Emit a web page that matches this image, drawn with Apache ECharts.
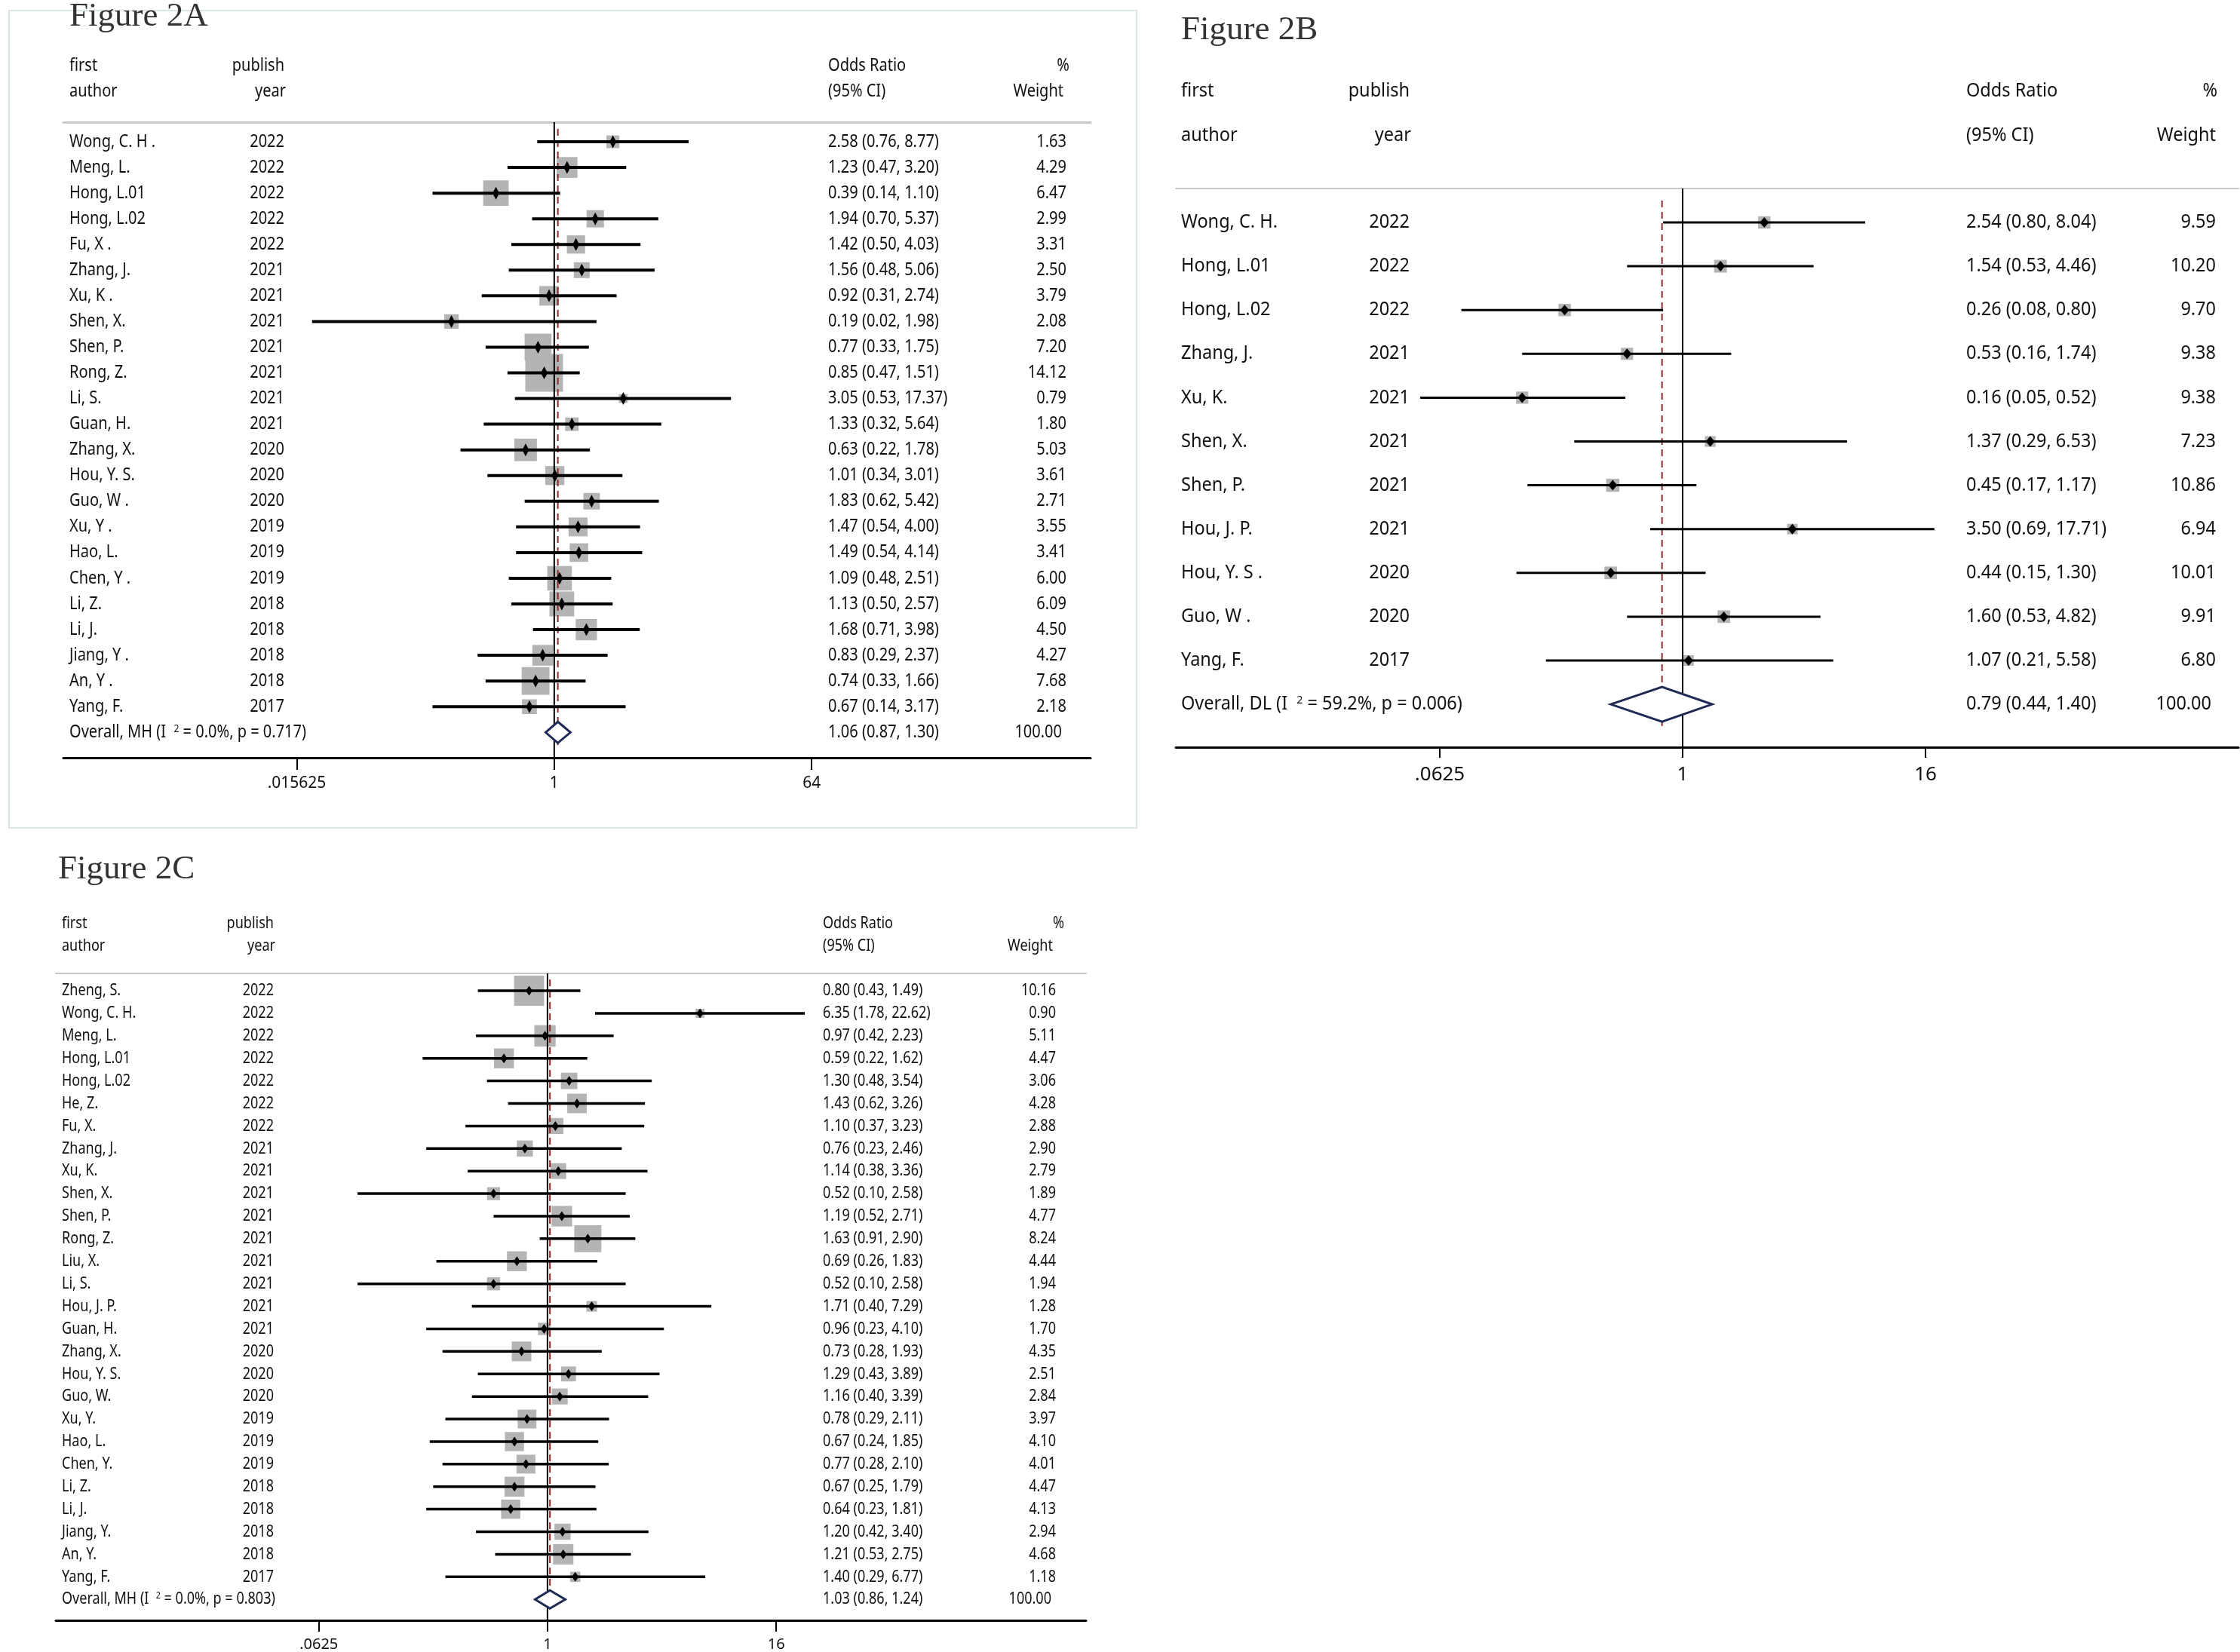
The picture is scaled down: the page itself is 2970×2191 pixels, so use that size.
<!DOCTYPE html>
<html>
<head>
<meta charset="utf-8">
<title>Figure 2</title>
<script src="https://cdn.jsdelivr.net/npm/echarts@6/dist/echarts.min.js"></script>
<style>
html, body { margin: 0; padding: 0; background: #fff; }
#main { width: 2970px; height: 2191px; }
</style>
</head>
<body>
<div id="main"></div>
<script>
/**
 * Figure 2A  (Mantel-Haenszel)
 */
var authorsA = ['Wong, C. H .', 'Meng, L.', 'Hong, L.01', 'Hong, L.02', 'Fu, X .', 'Zhang, J.', 'Xu, K .', 'Shen, X.',
    'Shen, P.', 'Rong, Z.', 'Li, S.', 'Guan, H.', 'Zhang, X.', 'Hou, Y. S.', 'Guo, W .', 'Xu, Y .', 'Hao, L.',
    'Chen, Y .', 'Li, Z.', 'Li, J.', 'Jiang, Y .', 'An, Y .', 'Yang, F.'];
var yearsA = [2022, 2022, 2022, 2022, 2022, 2021, 2021, 2021, 2021, 2021, 2021, 2021, 2020, 2020, 2020, 2019, 2019,
    2019, 2018, 2018, 2018, 2018, 2017];
var orA = [2.58, 1.23, 0.39, 1.94, 1.42, 1.56, 0.92, 0.19, 0.77, 0.85, 3.05, 1.33, 0.63, 1.01, 1.83, 1.47, 1.49,
    1.09, 1.13, 1.68, 0.83, 0.74, 0.67];
var loA = [0.76, 0.47, 0.14, 0.70, 0.50, 0.48, 0.31, 0.02, 0.33, 0.47, 0.53, 0.32, 0.22, 0.34, 0.62, 0.54, 0.54,
    0.48, 0.50, 0.71, 0.29, 0.33, 0.14];
var hiA = [8.77, 3.20, 1.10, 5.37, 4.03, 5.06, 2.74, 1.98, 1.75, 1.51, 17.37, 5.64, 1.78, 3.01, 5.42, 4.00, 4.14,
    2.51, 2.57, 3.98, 2.37, 1.66, 3.17];
var weightA = [1.63, 4.29, 6.47, 2.99, 3.31, 2.50, 3.79, 2.08, 7.20, 14.12, 0.79, 1.80, 5.03, 3.61, 2.71, 3.55, 3.41,
    6.00, 6.09, 4.50, 4.27, 7.68, 2.18];
var overallA = [1.06, 0.87, 1.30, 100.00];      // or, lo, hi, weight
var statsA = ['MH', '0.0%', '0.717'];           // method, I2, p
var tickORA = [0.015625, 1, 64];
var tickLabelsA = ['.015625', '1', '64'];

/**
 * Figure 2B  (DerSimonian-Laird)
 */
var authorsB = ['Wong, C. H.', 'Hong, L.01', 'Hong, L.02', 'Zhang, J.', 'Xu, K.', 'Shen, X.', 'Shen, P.', 'Hou, J. P.',
    'Hou, Y. S .', 'Guo, W .', 'Yang, F.'];
var yearsB = [2022, 2022, 2022, 2021, 2021, 2021, 2021, 2021, 2020, 2020, 2017];
var orB = [2.54, 1.54, 0.26, 0.53, 0.16, 1.37, 0.45, 3.50, 0.44, 1.60, 1.07];
var loB = [0.80, 0.53, 0.08, 0.16, 0.05, 0.29, 0.17, 0.69, 0.15, 0.53, 0.21];
var hiB = [8.04, 4.46, 0.80, 1.74, 0.52, 6.53, 1.17, 17.71, 1.30, 4.82, 5.58];
var weightB = [9.59, 10.20, 9.70, 9.38, 9.38, 7.23, 10.86, 6.94, 10.01, 9.91, 6.80];
var overallB = [0.79, 0.44, 1.40, 100.00];
var statsB = ['DL', '59.2%', '0.006'];
var tickORB = [0.0625, 1, 16];
var tickLabelsB = ['.0625', '1', '16'];

/**
 * Figure 2C  (Mantel-Haenszel)
 */
var authorsC = ['Zheng, S.', 'Wong, C. H.', 'Meng, L.', 'Hong, L.01', 'Hong, L.02', 'He, Z.', 'Fu, X.', 'Zhang, J.',
    'Xu, K.', 'Shen, X.', 'Shen, P.', 'Rong, Z.', 'Liu, X.', 'Li, S.', 'Hou, J. P.', 'Guan, H.', 'Zhang, X.',
    'Hou, Y. S.', 'Guo, W.', 'Xu, Y.', 'Hao, L.', 'Chen, Y.', 'Li, Z.', 'Li, J.', 'Jiang, Y.', 'An, Y.', 'Yang, F.'];
var yearsC = [2022, 2022, 2022, 2022, 2022, 2022, 2022, 2021, 2021, 2021, 2021, 2021, 2021, 2021, 2021, 2021, 2020,
    2020, 2020, 2019, 2019, 2019, 2018, 2018, 2018, 2018, 2017];
var orC = [0.80, 6.35, 0.97, 0.59, 1.30, 1.43, 1.10, 0.76, 1.14, 0.52, 1.19, 1.63, 0.69, 0.52, 1.71, 0.96, 0.73,
    1.29, 1.16, 0.78, 0.67, 0.77, 0.67, 0.64, 1.20, 1.21, 1.40];
var loC = [0.43, 1.78, 0.42, 0.22, 0.48, 0.62, 0.37, 0.23, 0.38, 0.10, 0.52, 0.91, 0.26, 0.10, 0.40, 0.23, 0.28,
    0.43, 0.40, 0.29, 0.24, 0.28, 0.25, 0.23, 0.42, 0.53, 0.29];
var hiC = [1.49, 22.62, 2.23, 1.62, 3.54, 3.26, 3.23, 2.46, 3.36, 2.58, 2.71, 2.90, 1.83, 2.58, 7.29, 4.10, 1.93,
    3.89, 3.39, 2.11, 1.85, 2.10, 1.79, 1.81, 3.40, 2.75, 6.77];
var weightC = [10.16, 0.90, 5.11, 4.47, 3.06, 4.28, 2.88, 2.90, 2.79, 1.89, 4.77, 8.24, 4.44, 1.94, 1.28, 1.70, 4.35,
    2.51, 2.84, 3.97, 4.10, 4.01, 4.47, 4.13, 2.94, 4.68, 1.18];
var overallC = [1.03, 0.86, 1.24, 100.00];
var statsC = ['MH', '0.0%', '0.803'];
var tickORC = [0.0625, 1, 16];
var tickLabelsC = ['.0625', '1', '16'];

var FONT = '"Noto Sans", "Open Sans", sans-serif';
var SERIF = '"Liberation Serif", "DejaVu Serif", serif';
var TXT = '#111';

// pixel layout of each panel (x axis in log2 units)
var layoutA = {
    title: 'Figure 2A', tx: 92, ty: 35,
    left: 84, top: 162, width: 1362, height: 843,
    xMin: -11.44, xMax: 12.5, yMin: -0.764, yMax: 23.99,
    colAuthor: 92, colYear: 377, colCI: 1098, colW: 1414, colPct: 1418, colWt: 1410,
    hy1: 87, hy2: 121,
    fs: 23, sx: 0.87, axFs: 21, tickLen: 16, margin: 24, topW: 3,
    sq: 13.3, dw: 4.5, dh: 8.5, ciW: 4, ovH: 14
};
var layoutB = {
    title: 'Figure 2B', tx: 1566, ty: 53,
    left: 1559, top: 250, width: 1409, height: 741,
    xMin: -8.348, xMax: 9.155, yMin: -0.775, yMax: 11.98,
    colAuthor: 1566, colYear: 1869, colCI: 2607, colW: 2938, colPct: 2940, colWt: 2938,
    hy1: 121, hy2: 180,
    fs: 25, sx: 0.94, axFs: 26, tickLen: 14, margin: 24, topW: 2,
    sq: 5.3, dw: 6, dh: 7, ciW: 3, ovH: 23
};
var layoutC = {
    title: 'Figure 2C', tx: 77, ty: 1166,
    left: 74, top: 1291, width: 1366, height: 858,
    xMin: -8.60, xMax: 9.42, yMin: -0.77, yMax: 27.93,
    colAuthor: 82, colYear: 363, colCI: 1091, colW: 1400, colPct: 1411, colWt: 1396,
    hy1: 1225, hy2: 1255,
    fs: 22, sx: 0.82, axFs: 20, tickLen: 15, margin: 22, topW: 2,
    sq: 12.5, dw: 4.5, dh: 6.5, ciW: 3.5, ovH: 12
};

function log2(v) { return Math.log(v) / Math.LN2; }
function ciText(o, l, h) { return o.toFixed(2) + ' (' + l.toFixed(2) + ', ' + h.toFixed(2) + ')'; }

// text element, squeezed horizontally like the condensed font of the figure
function label(x, y, s, L, align) {
    return {
        type: 'text', x: x, y: y, scaleX: L.sx,
        style: {
            text: s, x: 0, y: 0, fill: TXT, fontSize: L.fs, fontFamily: FONT,
            align: align || 'left', verticalAlign: 'middle',
            rich: { s: { fontSize: Math.round(L.fs * 0.6), fontFamily: FONT, fill: TXT, verticalAlign: 'top' } }
        }
    };
}

var grids = [], xAxes = [], yAxes = [], series = [], graphics = [];

function panel(k, P, L) {
    var n = P.authors.length;
    var xi = 2 * k;
    var ticks = P.ticks.map(log2);
    var rows = [], textRows = [];
    for (var i = 0; i < n; i++) {
        rows.push([log2(P.or[i]), i, log2(P.lo[i]), log2(P.hi[i]), P.w[i]]);
        textRows.push([0, i]);
    }
    textRows.push([0, n]);

    grids.push({ left: L.left, top: L.top, width: L.width, height: L.height });
    xAxes.push({
        type: 'value', gridIndex: k, position: 'bottom', min: L.xMin, max: L.xMax,
        splitLine: { show: false },
        axisLine: { show: true, onZero: false, lineStyle: { color: '#000', width: 3 } },
        axisTick: { show: true, customValues: ticks, length: L.tickLen, lineStyle: { color: '#000', width: 2 } },
        axisLabel: {
            customValues: ticks, margin: L.margin, color: TXT, fontSize: L.axFs, fontFamily: FONT,
            formatter: function (v) {
                var best = 0;
                for (var j = 1; j < ticks.length; j++) {
                    if (Math.abs(ticks[j] - v) < Math.abs(ticks[best] - v)) best = j;
                }
                return P.tickLabels[best];
            }
        }
    });
    // grey rule under the header
    xAxes.push({
        type: 'value', gridIndex: k, position: 'top', min: L.xMin, max: L.xMax,
        splitLine: { show: false }, axisTick: { show: false }, axisLabel: { show: false },
        axisLine: { show: true, onZero: false, lineStyle: { color: '#c8c8c8', width: L.topW } }
    });
    yAxes.push({ type: 'value', gridIndex: k, inverse: true, min: L.yMin, max: L.yMax, show: false });

    // weight squares
    series.push({
        type: 'custom', xAxisIndex: xi, yAxisIndex: k, z: 1, silent: true,
        encode: { x: 0, y: 1 }, data: rows,
        renderItem: function (params, api) {
            var p = api.coord([api.value(0), api.value(1)]);
            var s = L.sq * Math.sqrt(api.value(4));
            return { type: 'rect', shape: { x: p[0] - s / 2, y: p[1] - s / 2, width: s, height: s }, style: { fill: '#b4b4b4' } };
        }
    });
    // line of no effect (OR = 1)
    series.push({
        type: 'custom', xAxisIndex: xi, yAxisIndex: k, z: 2, silent: true,
        encode: { x: 0, y: 1 }, data: [[log2(1), 0]],
        renderItem: function (params, api) {
            var a = api.coord([api.value(0), L.yMin]), b = api.coord([api.value(0), L.yMax]);
            return { type: 'line', shape: { x1: a[0], y1: a[1], x2: b[0], y2: b[1] }, style: { stroke: '#000', lineWidth: 2 } };
        }
    });
    // overall estimate, dashed
    series.push({
        type: 'custom', xAxisIndex: xi, yAxisIndex: k, z: 2, silent: true,
        encode: { x: 0, y: 1 }, data: [[log2(P.overall[0]), n]],
        renderItem: function (params, api) {
            var a = api.coord([api.value(0), -0.5]), b = api.coord([api.value(0), n + 0.5]);
            return { type: 'line', shape: { x1: a[0], y1: a[1], x2: b[0], y2: b[1] }, style: { stroke: '#8c2d2d', lineWidth: 2, lineDash: [9, 6] } };
        }
    });
    // confidence intervals and point estimates
    series.push({
        type: 'custom', xAxisIndex: xi, yAxisIndex: k, z: 3, silent: true,
        encode: { x: 0, y: 1 }, data: rows,
        renderItem: function (params, api) {
            var y = api.value(1);
            var c = api.coord([api.value(0), y]), a = api.coord([api.value(2), y]), b = api.coord([api.value(3), y]);
            return {
                type: 'group', children: [
                    { type: 'line', shape: { x1: a[0], y1: a[1], x2: b[0], y2: b[1] }, style: { stroke: '#000', lineWidth: L.ciW } },
                    { type: 'polygon', shape: { points: [[c[0], c[1] - L.dh], [c[0] + L.dw, c[1]], [c[0], c[1] + L.dh], [c[0] - L.dw, c[1]]] }, style: { fill: '#000' } }
                ]
            };
        }
    });
    // pooled diamond
    series.push({
        type: 'custom', xAxisIndex: xi, yAxisIndex: k, z: 3, silent: true,
        encode: { x: 0, y: 1 }, data: [[log2(P.overall[0]), n, log2(P.overall[1]), log2(P.overall[2])]],
        renderItem: function (params, api) {
            var y = api.value(1);
            var c = api.coord([api.value(0), y]), a = api.coord([api.value(2), y]), b = api.coord([api.value(3), y]);
            return {
                type: 'polygon',
                shape: { points: [[a[0], c[1]], [c[0], c[1] - L.ovH], [b[0], c[1]], [c[0], c[1] + L.ovH]] },
                style: { fill: '#fff', stroke: '#1f2a55', lineWidth: 3 }
            };
        }
    });
    // table columns
    series.push({
        type: 'custom', xAxisIndex: xi, yAxisIndex: k, z: 4, silent: true,
        encode: { x: 0, y: 1 }, data: textRows,
        renderItem: function (params, api) {
            var i = params.dataIndex;
            var y = api.coord([0, api.value(1)])[1];
            if (i < n) {
                return {
                    type: 'group', children: [
                        label(L.colAuthor, y, P.authors[i], L, 'left'),
                        label(L.colYear, y, String(P.years[i]), L, 'right'),
                        label(L.colCI, y, ciText(P.or[i], P.lo[i], P.hi[i]), L, 'left'),
                        label(L.colW, y, P.w[i].toFixed(2), L, 'right')
                    ]
                };
            }
            var o = P.overall;
            return {
                type: 'group', children: [
                    label(L.colAuthor, y, 'Overall, ' + P.stats[0] + ' (I  {s|2} = ' + P.stats[1] + ', p = ' + P.stats[2] + ')', L, 'left'),
                    label(L.colCI, y, ciText(o[0], o[1], o[2]), L, 'left'),
                    label(L.colW - 6, y, o[3].toFixed(2), L, 'right')
                ]
            };
        }
    });

    // header and panel title
    graphics.push(label(L.colAuthor, L.hy1, 'first', L, 'left'));
    graphics.push(label(L.colAuthor, L.hy2, 'author', L, 'left'));
    graphics.push(label(L.colYear, L.hy1, 'publish', L, 'right'));
    graphics.push(label(L.colYear + 2, L.hy2, 'year', L, 'right'));
    graphics.push(label(L.colCI, L.hy1, 'Odds Ratio', L, 'left'));
    graphics.push(label(L.colCI, L.hy2, '(95% CI)', L, 'left'));
    graphics.push(label(L.colPct, L.hy1, '%', L, 'right'));
    graphics.push(label(L.colWt, L.hy2, 'Weight', L, 'right'));
    graphics.push({
        type: 'text', x: L.tx, y: L.ty + 10, z: 5,
        style: { text: L.title, x: 0, y: 0, fill: '#333', fontSize: 45, fontFamily: SERIF, align: 'left', verticalAlign: 'bottom' }
    });
}

// light frame around panel A
graphics.push({
    type: 'rect', x: 0, y: 0, z: 0,
    shape: { x: 12, y: 14, width: 1495, height: 1084 },
    style: { fill: 'none', stroke: '#dce5e8', lineWidth: 2 }
});

panel(0, { authors: authorsA, years: yearsA, or: orA, lo: loA, hi: hiA, w: weightA, overall: overallA, stats: statsA, ticks: tickORA, tickLabels: tickLabelsA }, layoutA);
panel(1, { authors: authorsB, years: yearsB, or: orB, lo: loB, hi: hiB, w: weightB, overall: overallB, stats: statsB, ticks: tickORB, tickLabels: tickLabelsB }, layoutB);
panel(2, { authors: authorsC, years: yearsC, or: orC, lo: loC, hi: hiC, w: weightC, overall: overallC, stats: statsC, ticks: tickORC, tickLabels: tickLabelsC }, layoutC);

var myChart = echarts.init(document.getElementById('main'));
myChart.setOption({
    backgroundColor: '#fff',
    animation: false,
    grid: grids,
    xAxis: xAxes,
    yAxis: yAxes,
    graphic: { elements: graphics },
    series: series
});
</script>
</body>
</html>
